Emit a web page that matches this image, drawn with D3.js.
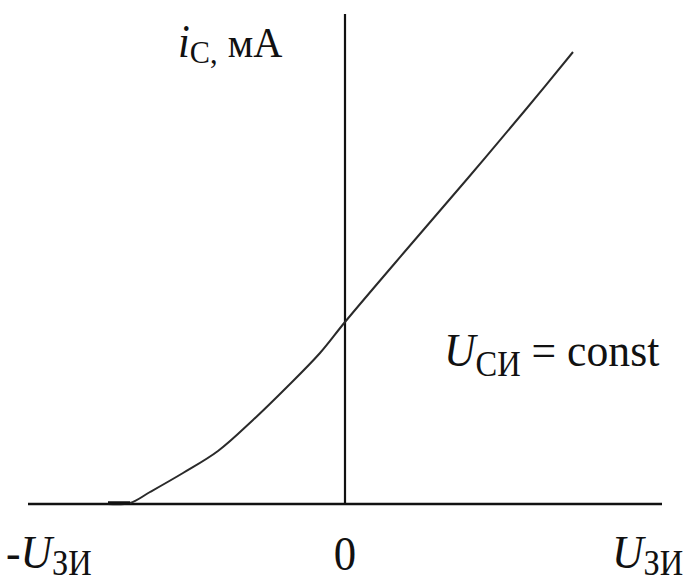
<!DOCTYPE html>
<html>
<head>
<meta charset="utf-8">
<script src="https://cdn.jsdelivr.net/npm/d3@7"></script>
<style>
  body { margin: 0; background: #fff; }
  text { font-family: "Liberation Serif", "Times New Roman", serif; fill: #111; }
</style>
</head>
<body>
<script>
// transfer characteristic, gate voltage (arbitrary units) vs drain current
var uGate = [-2.37, -2.15, -1.95, -1.62, -1.27, -0.92, -0.58, -0.25, 0, 0.62, 1.23, 1.82, 2.28];
var iDrain = [0, 0.01, 0.12, 0.31, 0.53, 0.84, 1.17, 1.51, 1.82, 2.55, 3.26, 3.96, 4.52];
var xDomain = [-3.17, 3.17];
var yDomain = [0, 4.9];

var width = 688, height = 583;

var svg = d3.select("body").append("svg")
    .attr("width", width)
    .attr("height", height);

// set the ranges
var x = d3.scaleLinear().domain(xDomain).range([28, 662]);
var y = d3.scaleLinear().domain(yDomain).range([504, 14]);

var data = uGate.map(function(d, i) { return {u: d, i: iDrain[i]}; });

// axes as plain lines through zero
svg.append("line")
    .attr("x1", x(xDomain[0])).attr("x2", x(xDomain[1]))
    .attr("y1", y(0)).attr("y2", y(0))
    .attr("stroke", "#111").attr("stroke-width", 2.4);

svg.append("line")
    .attr("x1", x(0)).attr("x2", x(0))
    .attr("y1", y(0)).attr("y2", y(yDomain[1]))
    .attr("stroke", "#111").attr("stroke-width", 2.2);

// the curve
var line = d3.line()
    .x(function(d) { return x(d.u); })
    .y(function(d) { return y(d.i); })
    .curve(d3.curveCatmullRom);

svg.append("path")
    .datum(data)
    .attr("fill", "none")
    .attr("stroke", "#2a2a2a")
    .attr("stroke-width", 2)
    .attr("d", line);

// little thick bit where the curve leaves the axis
svg.append("line")
    .attr("x1", x(uGate[0])).attr("x2", x(uGate[1]))
    .attr("y1", y(0) - 1).attr("y2", y(0) - 1)
    .attr("stroke", "#111").attr("stroke-width", 3.5);

// labels (the picture is stretched a bit)
function label(px, py, parts) {
  var t = svg.append("text")
      .attr("transform", "translate(" + px + "," + py + ") scale(1.12,1.2)");
  parts.forEach(function(p) {
    t.append("tspan")
      .attr("font-size", p.size)
      .attr("font-style", p.italic ? "italic" : "normal")
      .attr("dy", p.dy || 0)
      .text(p.t);
  });
  return t;
}

label(178, 57, [
  {t: "i", size: 38, italic: true},
  {t: "C", size: 27, dy: 5},
  {t: ",", size: 27},
  {t: " мА", size: 36, dy: -5}
]);

label(444, 366, [
  {t: "U", size: 39, italic: true},
  {t: "СИ", size: 29, dy: 8},
  {t: " = const", size: 39, dy: -8}
]);

label(6, 568, [
  {t: "-", size: 39},
  {t: "U", size: 39, italic: true},
  {t: "ЗИ", size: 29, dy: 6}
]);

label(x(0), 570, [{t: "0", size: 40}]).attr("text-anchor", "middle");

label(612, 568, [
  {t: "U", size: 39, italic: true},
  {t: "ЗИ", size: 29, dy: 6}
]);
</script>
</body>
</html>
